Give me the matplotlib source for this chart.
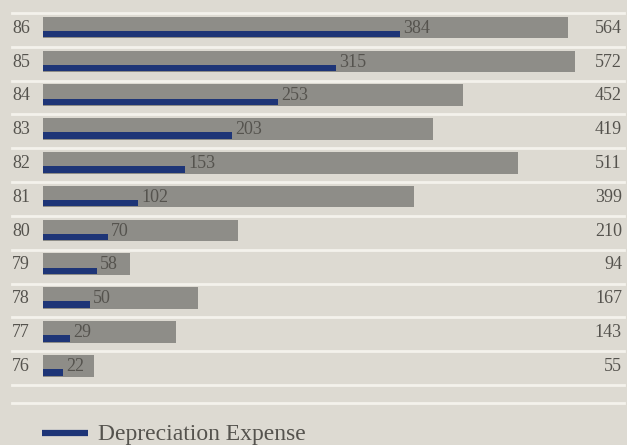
import matplotlib
matplotlib.use("Agg")
import matplotlib.pyplot as plt
import matplotlib.transforms as mtransforms
import numpy as np

# ---- data ----
years = ["86", "85", "84", "83", "82", "81", "80", "79", "78", "77", "76"]
capital = [564, 572, 452, 419, 511, 399, 210, 94, 167, 143, 55]
depreciation = [384, 315, 253, 203, 153, 102, 70, 58, 50, 29, 22]
legend_label = "Depreciation Expense"

# ---- style ----
BG = "#dddad2"
GRAY = "#8e8d88"
BLUE = "#1e3577"
LINE = "#f4f2ec"
TXT = "#55534e"
FONT = ["Liberation Serif", "DejaVu Serif"]

W, H = 627, 445
fig = plt.figure(figsize=(W / 100, H / 100), dpi=100)
fig.patch.set_facecolor(BG)
ax = fig.add_axes([0, 0, 1, 1])
ax.set_facecolor(BG)
ax.set_xlim(-46.24, 627.96)
ax.set_ylim(-2.274, 10.884)
ax.axis("off")

n = len(years)
pos = np.arange(n)[::-1]

ax.barh(pos + 0.07, capital, height=0.64, left=0, color=GRAY, zorder=2)
ax.barh(pos - 0.125, depreciation, height=0.19, left=0, color=BLUE, zorder=3)

for y in np.arange(-0.5, n):
    ax.axhline(y, xmin=12 / W, xmax=624 / W, color=LINE, lw=2.0, zorder=1)
ax.axhline(-1.03, xmin=12 / W, xmax=624 / W, color=LINE, lw=2.0, zorder=1)

blend = mtransforms.blended_transform_factory(ax.transAxes, ax.transData)
for p, yr, c, d in zip(pos, years, capital, depreciation):
    ax.text(12 / W, p + 0.05, yr, transform=blend, ha="left", va="center",
            fontsize=13, color=TXT, family=FONT, zorder=4)
    ax.text(d + 3.5, p + 0.05, str(d), ha="left", va="center",
            fontsize=13, color=TXT, family=FONT, zorder=4)
    ax.text(622 / W, p + 0.05, str(c), transform=blend, ha="right", va="center",
            fontsize=13, color=TXT, family=FONT, zorder=4)

# legend
ax.plot([42 / W, 88 / W], [(H - 433) / H] * 2, transform=ax.transAxes,
        color=BLUE, lw=4.5, solid_capstyle="butt", zorder=4)
ax.text(98 / W, 5 / H, legend_label, transform=ax.transAxes, ha="left",
        va="baseline", fontsize=17, color=TXT, family=FONT, zorder=4)

fig.savefig("out.png", dpi=100, facecolor=BG)
